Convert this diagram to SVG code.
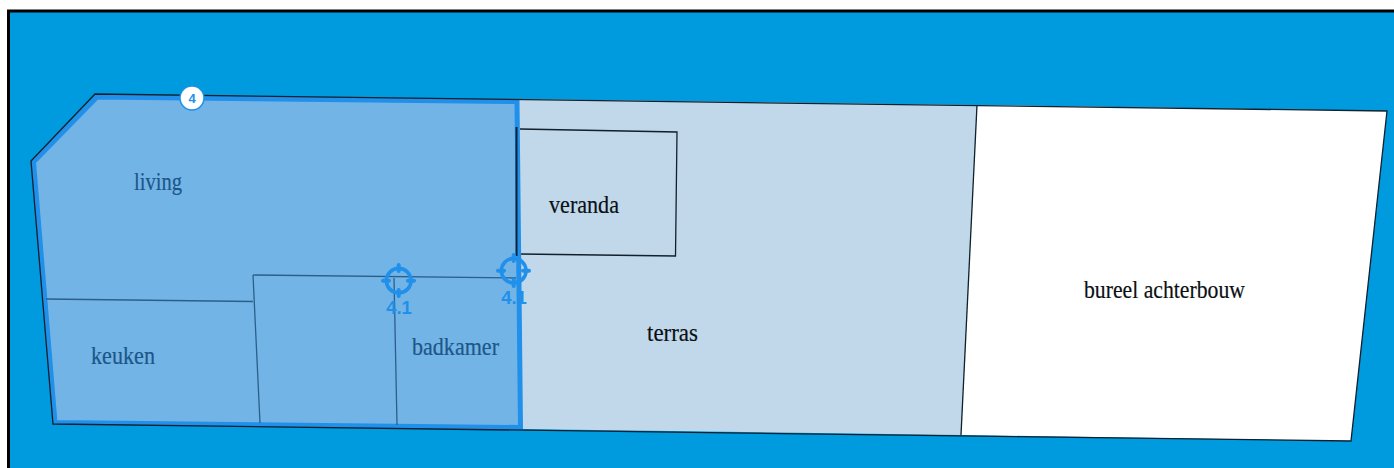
<svg xmlns="http://www.w3.org/2000/svg" width="1394" height="468" viewBox="0 0 1394 468">
<style>
.wall{fill:none;stroke:#10202c;stroke-width:1.300}
.in{fill:none;stroke:#2a5f8c;stroke-width:1.300}
.t{font-family:"Liberation Serif",serif;font-size:26px;fill:#0a0f14;stroke:#0a0f14;stroke-width:.2}
.b{fill:#1c5688;stroke:#1c5688}
.tg{fill:none;stroke:#2090ea;stroke-width:3.600}
.tk{fill:none;stroke:#2090ea;stroke-width:4;stroke-linecap:round}
.l{font-family:"Liberation Sans",sans-serif;font-size:18.500px;font-weight:700;fill:#2090ea;text-anchor:middle}
</style>
<rect width="1394" height="468" fill="#ffffff"/>
<rect x="8.500" y="11" width="1390" height="462" fill="#009ade" stroke="#000" stroke-width="3"/>
<g id="bureel">
<polygon points="977,105 1387,111 1351,441 961,435" fill="#fff"/>
<text class="t" x="1084" y="298" textLength="161" lengthAdjust="spacingAndGlyphs">bureel achterbouw</text>
</g>
<g id="terras">
<polygon points="517,99 977,105 961,435 521,429" fill="#c0d8ea"/>
<text class="t" x="647" y="341" textLength="51" lengthAdjust="spacingAndGlyphs">terras</text>
</g>
<g id="veranda">
<polyline class="wall" points="520,129 677,132 675.500,256 520,254"/>
<text class="t" x="549" y="213" textLength="70" lengthAdjust="spacingAndGlyphs">veranda</text>
</g>
<g id="zone">
<polygon points="97,97 517,101.500 520.500,427.500 55,422.500 33.500,162" fill="#73b4e6" stroke="#2090ea" stroke-width="5"/>
</g>
<g id="connectors">
<path class="wall" stroke-width="1.500" d="M95,94 L1387,111 L1351,441 L53,424 L31,161 Z"/>
<path class="wall" d="M977,105 L961,435"/>
<path d="M516.500,127 V256" stroke="#0a2238" stroke-width="2" fill="none"/>
<path class="in" d="M46,299 L253,301.500 M253,275 L260,423 M253,275 L516,278 M394,278 L397,425"/>
</g>
<g id="living"><text class="t b" x="134" y="190" textLength="48" lengthAdjust="spacingAndGlyphs">living</text></g>
<g id="keuken"><text class="t b" x="91" y="364" textLength="64" lengthAdjust="spacingAndGlyphs">keuken</text></g>
<g id="badkamer"><text class="t b" x="412" y="355" textLength="87" lengthAdjust="spacingAndGlyphs">badkamer</text></g>
<g id="badge-4">
<circle cx="192" cy="98" r="12" fill="#fff" stroke="#2090ea" stroke-width="1.500"/>
<text x="192" y="102.500" font-family="Liberation Sans, sans-serif" font-size="13" font-weight="700" fill="#2090ea" text-anchor="middle">4</text>
</g>
<g id="target-1">
<circle class="tg" cx="398.700" cy="280.700" r="12.300"/>
<path class="tk" d="M398.700,265 V271 M398.700,290 V296 M383,280.700 H389 M408,280.700 H414"/>
<text class="l" x="399" y="314">4.1</text>
</g>
<g id="target-2">
<circle class="tg" cx="513.700" cy="270.700" r="12.300"/>
<path class="tk" d="M513.700,255 V261 M513.700,280 V286 M498,270.700 H504 M523,270.700 H529"/>
<text class="l" x="514" y="304">4.1</text>
</g>
</svg>
